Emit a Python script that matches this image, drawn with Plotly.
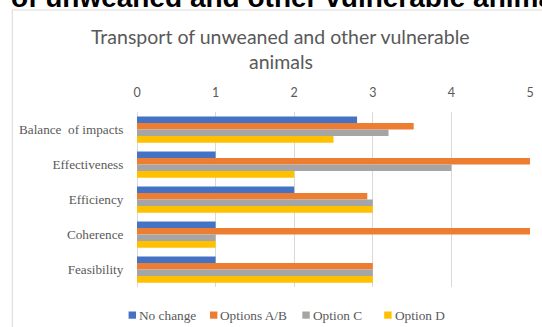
import plotly.graph_objects as go

# Data
categories = ["Balance  of impacts", "Effectiveness", "Efficiency", "Coherence", "Feasibility"]
no_change = [2.8, 1, 2, 1, 1]
options_ab = [3.52, 5, 2.93, 5, 3]
option_c = [3.2, 4, 3, 1, 3]
option_d = [2.5, 2, 3, 1, 3]
series_names = ["No change", "Options A/B", "Option C", "Option D"]
series_colors = ["#4472C4", "#ED7D31", "#A5A5A5", "#FFC000"]
x_ticks = [0, 1, 2, 3, 4, 5]

W, H = 542, 327
L, R, T, B = 137, 534, 112, 287  # plot area in pixels


def px(x):
    return (x - L) / (R - L)


def py(y):
    return 1 - (y - T) / (B - T)


fig = go.Figure()
for name, vals, col in zip(series_names, [no_change, options_ab, option_c, option_d], series_colors):
    fig.add_trace(go.Bar(
        y=categories, x=vals, name=name, orientation="h",
        marker=dict(color=col, line=dict(width=0)),
    ))

grey = "#595959"
serif = "Liberation Serif, Times New Roman, serif"
sans = "Lato, Carlito, Calibri, sans-serif"

annotations = [
    # page heading, partly above the top edge of the page
    dict(text="<b>of unweaned and other vulnerable animals</b>", x=px(8), y=py(-2.5),
         xref="paper", yref="paper", xanchor="left", yanchor="middle", showarrow=False,
         font=dict(family="Liberation Sans, Arial, sans-serif", size=28, color="#000000")),
    dict(text="Transport of unweaned and other vulnerable", x=px(282), y=py(36.7),
         xref="paper", yref="paper", xanchor="center", yanchor="middle", showarrow=False,
         font=dict(family=sans, size=19.5, color=grey)),
    dict(text="animals", x=px(282), y=py(61.7),
         xref="paper", yref="paper", xanchor="center", yanchor="middle", showarrow=False,
         font=dict(family=sans, size=19.5, color=grey)),
]

shapes = [
    # chart frame
    dict(type="rect", xref="paper", yref="paper", x0=px(11), x1=px(560), y0=py(10), y1=py(340),
         line=dict(color="#D9D9D9", width=1), fillcolor="rgba(0,0,0,0)", layer="below"),
]

# legend built from swatches and labels
legend_x = [128.5, 210.7, 304, 386.7]
for name, col, lx in zip(series_names, series_colors, legend_x):
    shapes.append(dict(type="rect", xref="paper", yref="paper",
                       x0=px(lx), x1=px(lx + 7.5), y0=py(318.7), y1=py(311.5),
                       line=dict(width=0), fillcolor=col))
    annotations.append(dict(text=name, x=px(lx + 8.5), y=py(315), xref="paper", yref="paper",
                            xanchor="left", yanchor="middle", showarrow=False,
                            font=dict(family=serif, size=13.3, color=grey)))

fig.update_layout(
    width=W, height=H,
    margin=dict(l=L, r=W - R, t=T, b=H - B, pad=0),
    paper_bgcolor="white", plot_bgcolor="white",
    barmode="group", bargap=0.25, bargroupgap=0,
    showlegend=False,
    annotations=annotations, shapes=shapes,
    xaxis=dict(
        side="top", range=[0, 5], tickvals=x_ticks, ticktext=[str(t) for t in x_ticks],
        showgrid=True, gridcolor="#D9D9D9", gridwidth=1,
        zeroline=True, zerolinecolor="#D9D9D9", zerolinewidth=1,
        showline=False, ticks="outside", ticklen=9, tickcolor="rgba(0,0,0,0)",
        tickfont=dict(family=sans, size=12.5, color=grey),
    ),
    yaxis=dict(
        autorange="reversed", showgrid=False, zeroline=False, showline=False,
        ticks="outside", ticklen=10, tickcolor="rgba(0,0,0,0)",
        tickfont=dict(family=serif, size=13.2, color=grey),
    ),
)

fig.write_html("out.html")
